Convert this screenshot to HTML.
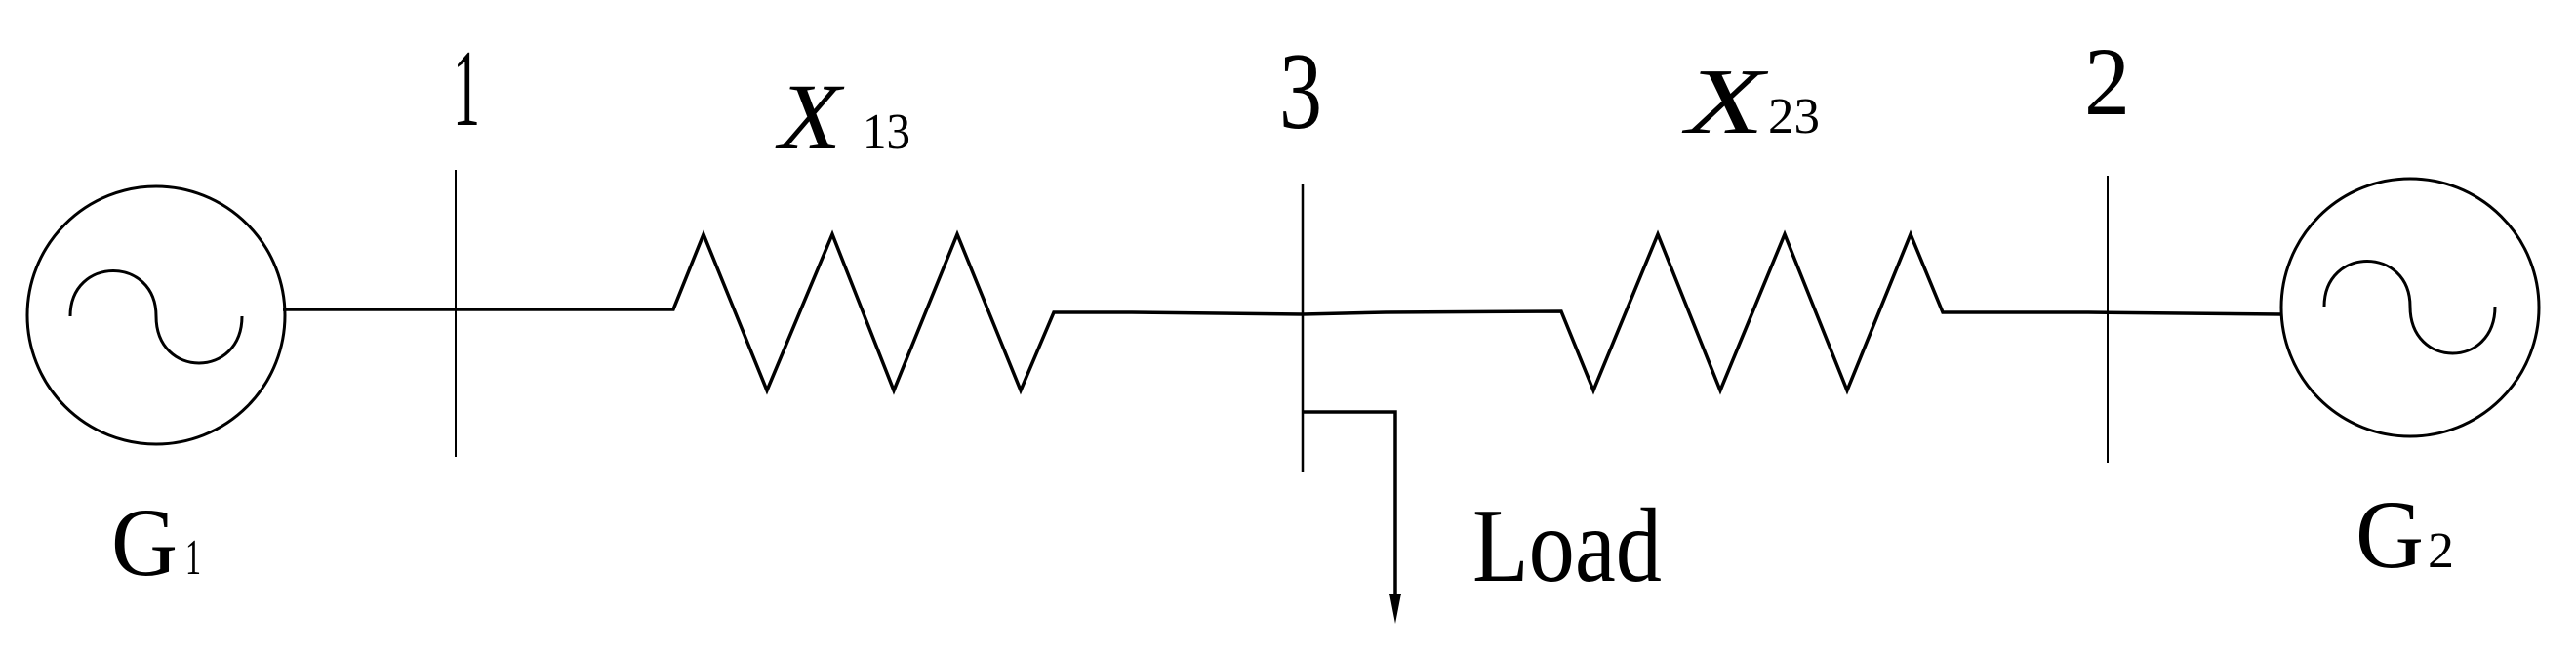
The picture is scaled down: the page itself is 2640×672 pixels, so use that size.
<!DOCTYPE html>
<html><head><meta charset="utf-8"><style>
html,body{margin:0;padding:0;background:#fff;}
svg{display:block;}
text{font-family:"Liberation Serif",serif;fill:#000;}
</style></head><body>
<svg width="2640" height="672" viewBox="0 0 2640 672" xmlns="http://www.w3.org/2000/svg">
<g fill="none" stroke="#000">
<circle cx="160" cy="323" r="132" stroke-width="3"/>
<path d="M72,324 C72,262 160,262 160,324 C160,388 248,388 248,324" stroke-width="3"/>
<circle cx="2470" cy="315" r="132" stroke-width="3"/>
<path d="M2382,314 C2382,252 2470,252 2470,314 C2470,378 2557,378 2557,314" stroke-width="3"/>
<line x1="467" y1="174" x2="467" y2="468" stroke-width="2"/>
<line x1="1335" y1="189" x2="1335" y2="483" stroke-width="2.5"/>
<line x1="2160" y1="180" x2="2160" y2="474" stroke-width="2"/>
<polyline points="290,317 690,317 721,240 786,400 853,240 916,400 981,240 1046,400 1080,320 1160,320 1335,322" stroke-width="3.5"/>
<polyline points="1335,322 1420,320 1600,319 1633,400 1699,240 1763,400 1829,240 1893,400 1958,240 1991,320 2140,320 2338,322" stroke-width="3.5"/>
<polyline points="1335,422 1430,422 1430,612" stroke-width="3.5"/>
</g>
<polygon points="1424,608 1436,608 1430,639" fill="#000"/>
<text x="464" y="128" font-size="112" textLength="28" lengthAdjust="spacingAndGlyphs">1</text>
<text x="1311" y="131" font-size="112" textLength="44" lengthAdjust="spacingAndGlyphs">3</text>
<text x="2136" y="117" font-size="100" textLength="47" lengthAdjust="spacingAndGlyphs">2</text>
<text x="798" y="152" font-size="96" font-style="italic" textLength="64" lengthAdjust="spacingAndGlyphs">X</text>
<text x="884" y="152" font-size="52" textLength="49" lengthAdjust="spacingAndGlyphs">13</text>
<text x="1728" y="136" font-size="96" font-style="italic" textLength="80" lengthAdjust="spacingAndGlyphs">X</text>
<text x="1812" y="136" font-size="52" textLength="53" lengthAdjust="spacingAndGlyphs">23</text>
<text x="114" y="589" font-size="100" textLength="68" lengthAdjust="spacingAndGlyphs">G</text>
<text x="190" y="588" font-size="52" textLength="16" lengthAdjust="spacingAndGlyphs">1</text>
<text x="2414" y="581" font-size="100" textLength="70" lengthAdjust="spacingAndGlyphs">G</text>
<text x="2488" y="581" font-size="52" textLength="27" lengthAdjust="spacingAndGlyphs">2</text>
<text x="1509" y="595" font-size="108" textLength="194" lengthAdjust="spacingAndGlyphs">Load</text>
</svg>
</body></html>
